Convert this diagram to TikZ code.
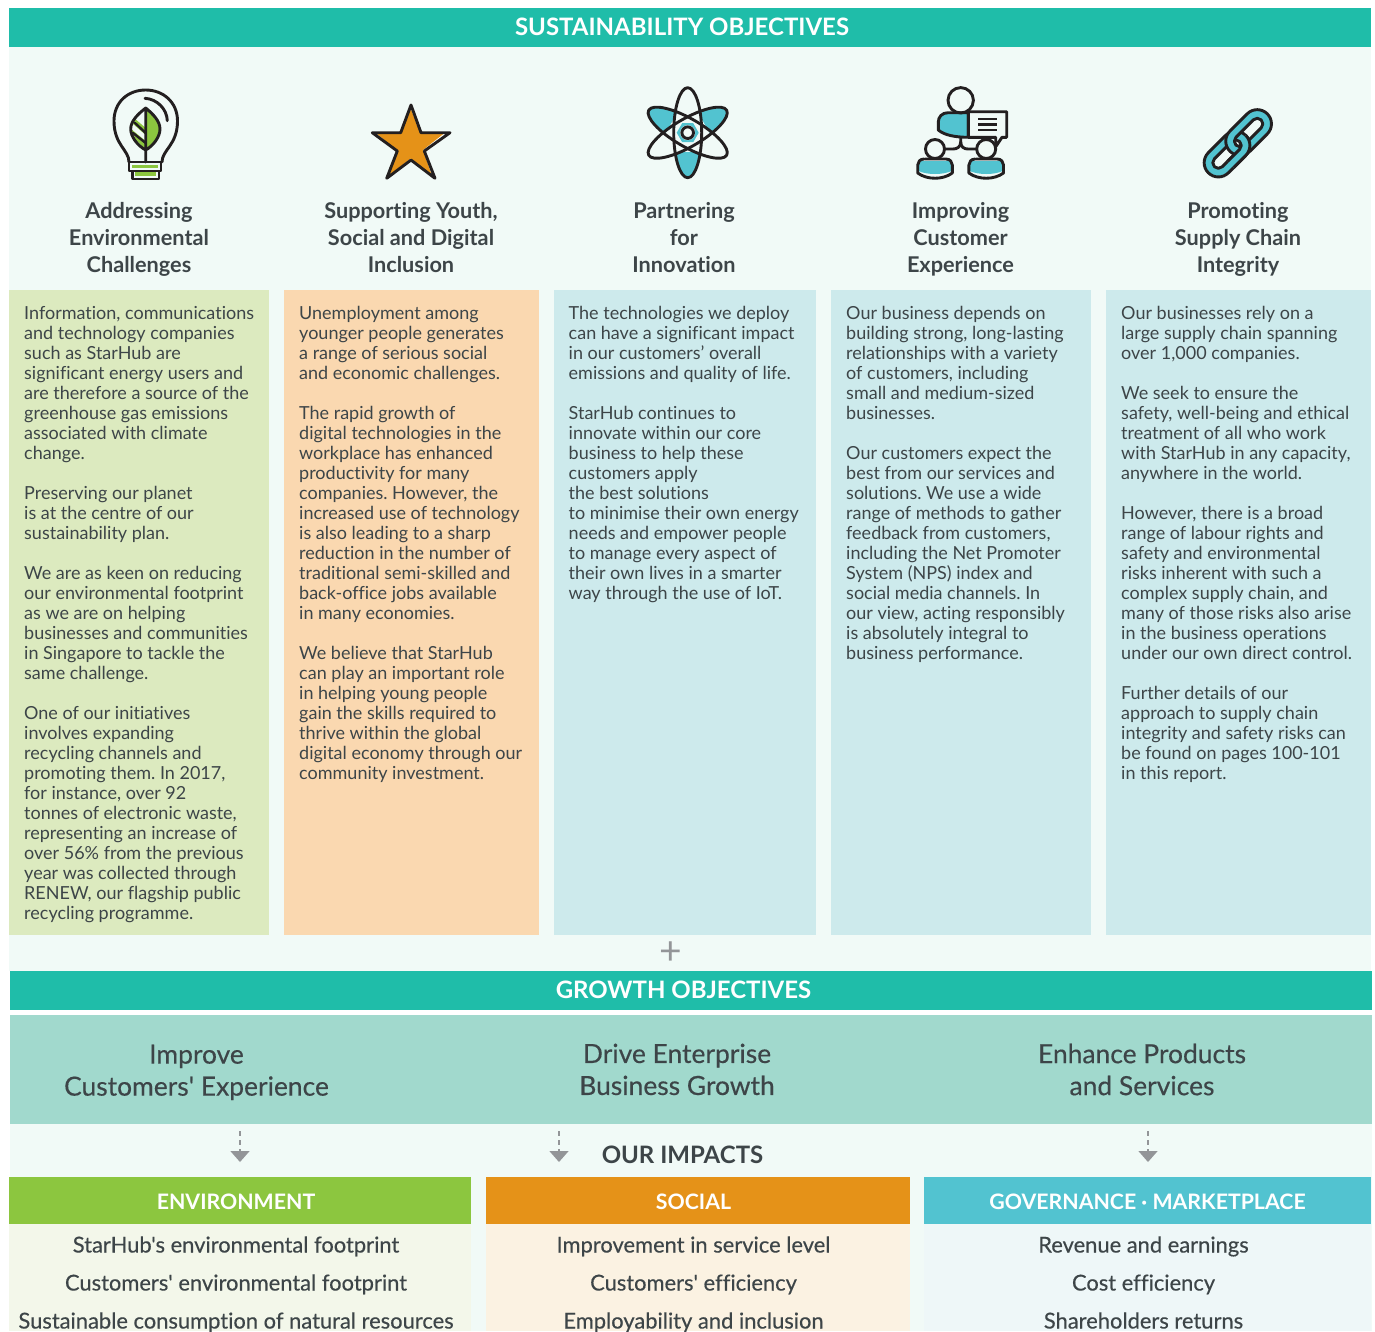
\documentclass[tikz,border=0pt]{standalone}
\usepackage{fontspec}
\setmainfont{Lato}[Ligatures=NoCommon]
\newfontfamily\lato{Lato}[Ligatures=NoCommon]
\newfontfamily\latom{Lato}[Ligatures=NoCommon,FakeBold=0.35]
\AtBeginDocument{\frenchspacing}
\usetikzlibrary{arrows.meta}
\definecolor{teal}{HTML}{1FBDA9}
\definecolor{pagebg}{HTML}{F1FAF7}
\definecolor{pgreen}{HTML}{DCEABF}
\definecolor{porange}{HTML}{FAD8B0}
\definecolor{pblue}{HTML}{CDEAEC}
\definecolor{band}{HTML}{A1D9CD}
\definecolor{cgreen}{HTML}{8CC63F}
\definecolor{corange}{HTML}{E59218}
\definecolor{ccyan}{HTML}{52C3D0}
\definecolor{lgreen}{HTML}{F3F7EA}
\definecolor{lorange}{HTML}{FBF2E2}
\definecolor{lcyan}{HTML}{EEF7F8}
\definecolor{ink}{HTML}{231F20}
\definecolor{txt}{HTML}{3D4548}
\definecolor{gr}{HTML}{939598}
\tikzset{
 box/.style={fill=#1,draw=none},
 banner/.style={anchor=center,inner sep=0,text=white,font=\lato\fontsize{24}{28}\selectfont\bfseries},
 bodytext/.style={anchor=north west,inner sep=0,align=left,text=txt,font=\lato\fontsize{18}{20}\selectfont},
 headtext/.style={anchor=north,inner sep=0,align=center,text=txt,font=\lato\fontsize{21.7}{27}\selectfont\bfseries},
 goaltext/.style={anchor=north,inner sep=0,align=center,text=txt,font=\latom\fontsize{26.4}{32}\selectfont},
 captext/.style={anchor=base,inner sep=0,text=white,font=\lato\fontsize{21.3}{25}\selectfont\bfseries},
 itemtext/.style={anchor=base,inner sep=0,text=txt,font=\latom\fontsize{21.9}{25}\selectfont},
 icon/.style={draw=ink,line width=2.9pt,line join=round,line cap=round},
 flowline/.style={draw=gr,line width=1.5pt,dash pattern=on 5pt off 4pt,-{Triangle[width=19pt,length=11pt,fill=gr]}},
}
\newcommand{\chainlink}[2]{%
 \path[icon,fill=ccyan,even odd rule,line cap=butt]
   [rounded corners=14.2pt] (#1-14.2,-14.2) rectangle (#2+14.2,14.2)
   [rounded corners=5.6pt] (#1-5.6,-5.6) rectangle (#2+5.6,5.6);}
\begin{document}
\begin{tikzpicture}[x=1pt,y=-1pt]
\useasboundingbox (0,0) rectangle (1375,1331);
% panels
\fill[pagebg] (9,47) rectangle (1371,971);
\fill[pagebg] (10,971) rectangle (1372,1331);
\fill[pagebg] (9,1177) rectangle (1371,1331);
\fill[white] (10,1010) rectangle (1372,1015);
\path[box=teal] (9,8) rectangle (1371,47);
\path[box=teal] (10,971) rectangle (1372,1010);
\path[box=band] (10,1015) rectangle (1372,1124);
\path[box=pgreen] (9,290) rectangle (269,935);
\path[box=porange] (284,290) rectangle (539,935);
\path[box=pblue] (554,290) rectangle (816,935);
\path[box=pblue] (831,290) rectangle (1091,935);
\path[box=pblue] (1106,290) rectangle (1371,935);
\path[box=cgreen] (9,1177) rectangle (471,1224);
\path[box=corange] (486,1177) rectangle (910,1224);
\path[box=ccyan] (924,1177) rectangle (1371,1224);
\path[box=lgreen] (9,1224) rectangle (471,1331);
\path[box=lorange] (486,1224) rectangle (910,1331);
\path[box=lcyan] (924,1224) rectangle (1371,1331);
% banners
\node[banner] (sust) at (682,26.5) {SUSTAINABILITY OBJECTIVES};
\node[banner] (grow) at (683.5,989.5) {GROWTH OBJECTIVES};
\node[inner sep=0,text=gr,font=\lato\fontsize{39}{39}\selectfont] (plus) at (671,953.5) {+};
% bulb
\path[fill=cgreen] (145.7,108) .. controls (153,114) and (160,121) .. (160,129) .. controls (160,137) and (153,146) .. (145.7,150) -- cycle;
\path[fill=cgreen] (131,129) -- (145.7,141) -- (145.7,150) -- (136,140) -- cycle;
\path[fill=cgreen] (134,118) -- (145.7,128) -- (145.7,135) -- (132,123) -- cycle;
\draw[icon] (145.7,108) .. controls (138,114) and (130.7,121) .. (130.7,129) .. controls (130.7,137) and (138,146) .. (145.7,150) .. controls (153,146) and (160,137) .. (160,129) .. controls (160,121) and (153,114) .. (145.7,108) -- (145.7,162);
\draw[icon,line width=2.4pt] (145.7,133) -- (135,123) (145.7,143) -- (133,133);
\draw[icon] (129,162) .. controls (129,150) and (114,145) .. (114,121) .. controls (114,102) and (128,90) .. (145.7,90) .. controls (163,90) and (177.5,102) .. (177.5,121) .. controls (177.5,145) and (162,150) .. (162,162);
\draw[icon] (145,98.3) .. controls (157,99) and (167,109) .. (167.3,120.7);
\path[fill=cgreen] (132,164.5) rectangle (158,168);
\path[fill=cgreen] (135,172) rectangle (156,176);
\draw[icon] (129,162) rectangle (161,171);
\draw[icon] (132.7,171) rectangle (159,179);
% star
\path[fill=white] (411,108) -- (421,133) -- (446,133) -- (424,151) -- (433,176) -- (411,160) -- (389,176) -- (397.5,151) -- (376,133) -- (401,133) -- cycle;
\path[fill=corange] (410.5,108) -- (420,133) -- (444.5,133) -- (423,150) -- (431.5,174.5) -- (410.5,158.5) -- (389,176) -- (397.5,151) -- (376,133) -- (401,133) -- cycle;
\draw[icon] (411,105) -- (421,132.7) -- (450,132.7) -- (424.3,151) -- (435,178.3) -- (411,160) -- (386.7,178.3) -- (397.3,151) -- (372.3,132.7) -- (400.7,132.7) -- cycle;
% atom
\begin{scope}[shift={(687.7,132.7)}]
 \foreach \a in {0,120,240}{
  \begin{scope}[rotate=\a]
   \clip (0,0) ellipse [x radius=14,y radius=45];
   \fill[ccyan] (-15,19) rectangle (15,46);
  \end{scope}}
 \fill[ccyan] (11,0) -- (5.5,9.5) -- (-5.5,9.5) -- (-11,0) -- (-5.5,-9.5) -- (5.5,-9.5) -- cycle;
 \fill[pagebg] (0,0) circle (7.5);
 \draw[icon] (0,0) circle (5.8);
 \foreach \a in {0,60,120}
  \draw[icon,rotate=\a] (0,0) ellipse [x radius=14,y radius=45];
\end{scope}
% people
\path[fill=ccyan] (968.3,113) -- (948,113) .. controls (942,113) and (938.5,117) .. (938.5,122) -- (938.5,129) .. controls (944,134) and (955,137) .. (968.3,137) -- cycle;
\draw[icon] (968.3,112.7) -- (948,112.7) .. controls (942,112.7) and (938.3,117) .. (938.3,122) -- (938.3,130) .. controls (944,135) and (955,137.3) .. (968.3,137.3) -- cycle;
\draw[icon,fill=pagebg] (968.3,111.7) -- (1006.7,111.7) -- (1006.7,137.3) -- (1002,137.3) -- (995.7,146.7) -- (995.7,137.3) -- (968.3,137.3) -- cycle;
\draw[icon,line cap=butt] (978.3,119) -- (996.7,119) (978.3,124.3) -- (996.7,124.3) (978.3,130) -- (996.7,130);
\draw[icon] (960.7,100.3) circle (12.7);
\draw[icon] (960.7,137.3) -- (960.7,142) .. controls (960.7,147) and (957,149) .. (953,149) -- (944.5,149);
\draw[icon] (960.7,142) .. controls (960.7,147) and (964,149) .. (968,149) -- (976,149);
\foreach \cx in {935,986.2}{
 \path[fill=ccyan] (\cx-16.5,161) -- (\cx+16.5,161) -- (\cx+16.5,171) .. controls (\cx+8,175) and (\cx-8,175) .. (\cx-16.5,171) -- cycle;
 \draw[icon] (\cx-10,159) -- (\cx+11,159) .. controls (\cx+15,159) and (\cx+17.3,162) .. (\cx+17.3,165) -- (\cx+17.3,173) .. controls (\cx+8,180) and (\cx-8,180) .. (\cx-17.3,173) -- (\cx-17.3,165) .. controls (\cx-17.3,162) and (\cx-15,159) .. (\cx-11,159);
 \draw[icon,fill=pagebg] (\cx,149) circle (9.5);
}
% chain
\begin{scope}[shift={(1237.8,143.3)},rotate=45]
 \chainlink{-27.5}{-3}
 \chainlink{3}{27.5}
 \begin{scope}
  \clip (-20,0) rectangle (20,20);
  \chainlink{-27.5}{-3}
 \end{scope}
\end{scope}
% titles
\node[headtext] (t1) at (139,202) {Addressing\\Environmental\\Challenges};
\node[headtext] (t2) at (411,202) {Supporting Youth,\\Social and Digital\\Inclusion};
\node[headtext] (t3) at (684,202) {Partnering\\for\\Innovation};
\node[headtext] (t4) at (960.5,202) {Improving\\Customer\\Experience};
\node[headtext] (t5) at (1238,202) {Promoting\\Supply Chain\\Integrity};
% bodies
\node[bodytext] (b1) at (24,306) {Information, communications\\and technology companies\\such as StarHub are\\significant energy users and\\are therefore a source of the\\greenhouse gas emissions\\associated with climate\\change.\\[20pt]Preserving our planet\\is at the centre of our\\sustainability plan.\\[20pt]We are as keen on reducing\\our environmental footprint\\as we are on helping\\businesses and communities\\in Singapore to tackle the\\same challenge.\\[20pt]One of our initiatives\\involves expanding\\recycling channels and\\promoting them. In 2017,\\for instance, over 92\\tonnes of electronic waste,\\representing an increase of\\over 56\% from the previous\\year was collected through\\RENEW, our flagship public\\recycling programme.};
\node[bodytext] (b2) at (299,306) {Unemployment among\\younger people generates\\a range of serious social\\and economic challenges.\\[20pt]The rapid growth of\\digital technologies in the\\workplace has enhanced\\productivity for many\\companies. However, the\\increased use of technology\\is also leading to a sharp\\reduction in the number of\\traditional semi-skilled and\\back-office jobs available\\in many economies.\\[20pt]We believe that StarHub\\can play an important role\\in helping young people\\gain the skills required to\\thrive within the global\\digital economy through our\\community investment.};
\node[bodytext] (b3) at (568.5,306) {The technologies we deploy\\can have a significant impact\\in our customers’ overall\\emissions and quality of life.\\[20pt]StarHub continues to\\innovate within our core\\business to help these\\customers apply\\the best solutions\\to minimise their own energy\\needs and empower people\\to manage every aspect of\\their own lives in a smarter\\way through the use of IoT.};
\node[bodytext] (b4) at (846,306) {Our business depends on\\building strong, long-lasting\\relationships with a variety\\of customers, including\\small and medium-sized\\businesses.\\[20pt]Our customers expect the\\best from our services and\\solutions. We use a wide\\range of methods to gather\\feedback from customers,\\including the Net Promoter\\System (NPS) index and\\social media channels. In\\our view, acting responsibly\\is absolutely integral to\\business performance.};
\node[bodytext] (b5) at (1121,306) {Our businesses rely on a\\large supply chain spanning\\over 1,000 companies.\\[20pt]We seek to ensure the\\safety, well-being and ethical\\treatment of all who work\\with StarHub in any capacity,\\anywhere in the world.\\[20pt]However, there is a broad\\range of labour rights and\\safety and environmental\\risks inherent with such a\\complex supply chain, and\\many of those risks also arise\\in the business operations\\under our own direct control.\\[20pt]Further details of our\\approach to supply chain\\integrity and safety risks can\\be found on pages 100-101\\in this report.};
% goals
\node[goaltext] (g1) at (196.5,1044.5) {Improve\\Customers' Experience};
\node[goaltext] (g2) at (677,1043.5) {Drive Enterprise\\Business Growth};
\node[goaltext] (g3) at (1142,1043.5) {Enhance Products\\and Services};
% arrows
\coordinate (a1) at (240,1131); \coordinate (e1) at (240,1162);
\coordinate (a2) at (559,1131); \coordinate (e2) at (559,1162);
\coordinate (a3) at (1148,1131); \coordinate (e3) at (1148,1162);
\draw[flowline] (a1) -- (e1);
\draw[flowline] (a2) -- (e2);
\draw[flowline] (a3) -- (e3);
\node[inner sep=0,text=txt,font=\lato\fontsize{24}{28}\selectfont\bfseries] (imp) at (682.5,1154.5) {OUR IMPACTS};
% captions
\node[captext] (c1) at (236,1209.5) {ENVIRONMENT};
\node[captext] (c2) at (693.5,1209.5) {SOCIAL};
\node[captext] (c3) at (1147.5,1209.5) {GOVERNANCE · MARKETPLACE};
\foreach \n/\x/\y/\t in {
 i1/236/1252.5/StarHub's environmental footprint,
 i2/236/1290.5/Customers' environmental footprint,
 i3/236/1328.5/Sustainable consumption of natural resources,
 i4/693.5/1252.5/Improvement in service level,
 i5/693.5/1290.5/Customers' efficiency,
 i6/693.5/1328.5/Employability and inclusion,
 i7/1143.5/1252.5/Revenue and earnings,
 i8/1143.5/1290.5/Cost efficiency,
 i9/1143.5/1328.5/Shareholders returns}
 \node[itemtext] (\n) at (\x,\y) {\t};
\end{tikzpicture}
\end{document}
